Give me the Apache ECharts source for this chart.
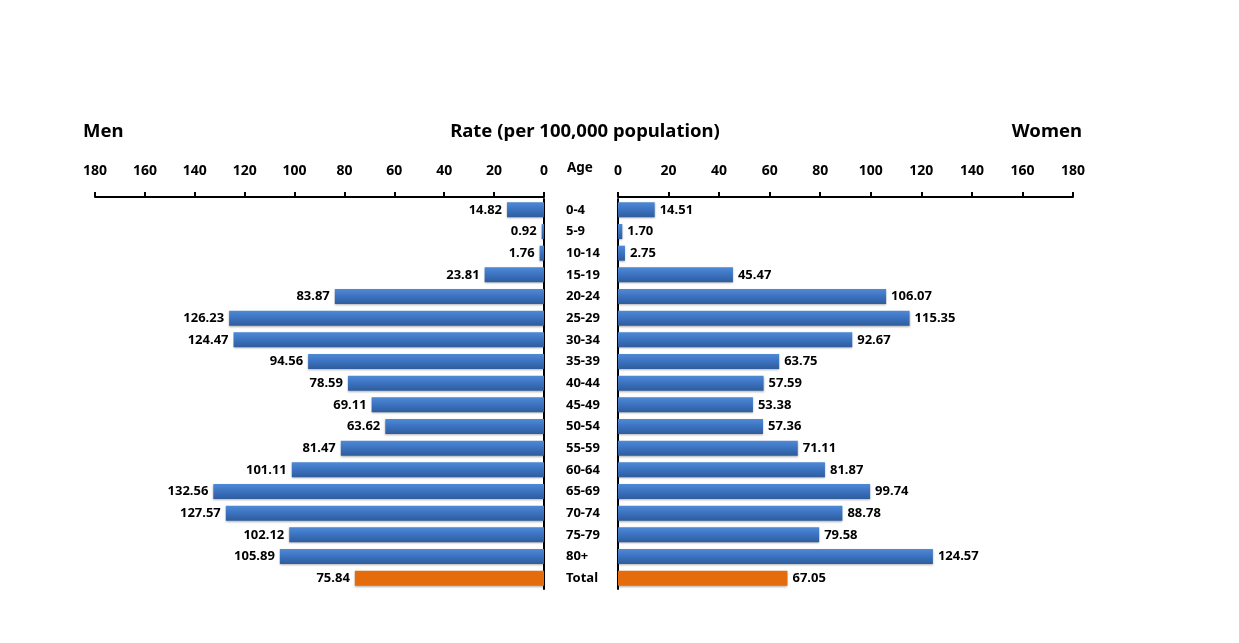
<!DOCTYPE html>
<html><head><meta charset="utf-8">
<script src="https://cdn.jsdelivr.net/npm/echarts@6/dist/echarts.min.js"></script>
<style>html,body{margin:0;padding:0;background:#fff}#c{width:1239px;height:643px}</style>
</head><body><div id="c"></div>
<script>
const ages = ['0-4','5-9','10-14','15-19','20-24','25-29','30-34','35-39','40-44','45-49','50-54','55-59','60-64','65-69','70-74','75-79','80+','Total'];
const men = [14.82,0.92,1.76,23.81,83.87,126.23,124.47,94.56,78.59,69.11,63.62,81.47,101.11,132.56,127.57,102.12,105.89,75.84];
const women = [14.51,1.70,2.75,45.47,106.07,115.35,92.67,63.75,57.59,53.38,57.36,71.11,81.87,99.74,88.78,79.58,124.57,67.05];
const axisTicks = [0,20,40,60,80,100,120,140,160,180];

const FONT = '"Noto Sans", "DejaVu Sans", sans-serif';
const blue = new echarts.graphic.LinearGradient(0,0,0,1,[
  {offset:0,color:'#4f8ad6'},{offset:0.5,color:'#3b72bf'},{offset:1,color:'#2f5c9c'}]);
const orange = '#e46c0c';
function mk(vals){
  return vals.map((v,i)=>({value:v, itemStyle:{color: ages[i]==='Total'?orange:blue}}));
}
const chart = echarts.init(document.getElementById('c'));
const xCommon = {
  type:'value', position:'top', min:0, max:180, interval:20, offset:2,
  axisLine:{show:true,lineStyle:{color:'#000',width:2}},
  axisTick:{show:true,length:5,lineStyle:{color:'#000',width:2}},
  axisLabel:{color:'#000',fontWeight:'bold',fontSize:14,fontFamily:FONT,margin:19},
  splitLine:{show:false}
};
const tStyle = {fontSize:18.5,fontWeight:'bold',color:'#000',fontFamily:FONT};
chart.setOption({
  animation:false,
  textStyle:{fontFamily:FONT},
  title:[
    {text:'Men',left:83,top:122,padding:0,textStyle:tStyle},
    {text:'Rate (per 100,000 population)',left:585,textAlign:'center',top:122,padding:0,textStyle:tStyle},
    {text:'Women',right:157,top:122,padding:0,textStyle:tStyle},
    {text:'Age',left:567,top:161,padding:0,textStyle:{fontSize:13.5,fontWeight:'bold',color:'#000',fontFamily:FONT}}
  ],
  grid:[
    {left:95,right:695,top:199,height:390},
    {left:618,right:166,top:199,height:390}
  ],
  xAxis:[
    Object.assign({},xCommon,{gridIndex:0,inverse:true}),
    Object.assign({},xCommon,{gridIndex:1})
  ],
  yAxis:[
    {type:'category',gridIndex:0,data:ages,inverse:true,position:'right',
     axisLine:{show:true,lineStyle:{color:'#000',width:2}},axisTick:{show:false},
     axisLabel:{show:true,align:'left',margin:22,color:'#000',fontWeight:'bold',fontSize:13,fontFamily:FONT}},
    {type:'category',gridIndex:1,data:ages,inverse:true,position:'left',
     axisLine:{show:true,lineStyle:{color:'#000',width:2}},axisTick:{show:false},axisLabel:{show:false}}
  ],
  series:[
    {type:'bar',xAxisIndex:0,yAxisIndex:0,data:mk(men),barWidth:15,
     itemStyle:{shadowColor:'rgba(0,0,0,0.3)',shadowBlur:2,shadowOffsetY:1},
     label:{show:true,position:'left',distance:5,color:'#000',fontWeight:'bold',fontSize:13,fontFamily:FONT,
       formatter:p=>p.value.toFixed(2)}},
    {type:'bar',xAxisIndex:1,yAxisIndex:1,data:mk(women),barWidth:15,
     itemStyle:{shadowColor:'rgba(0,0,0,0.3)',shadowBlur:2,shadowOffsetY:1},
     label:{show:true,position:'right',distance:5,color:'#000',fontWeight:'bold',fontSize:13,fontFamily:FONT,
       formatter:p=>p.value.toFixed(2)}}
  ]
});
</script></body></html>
